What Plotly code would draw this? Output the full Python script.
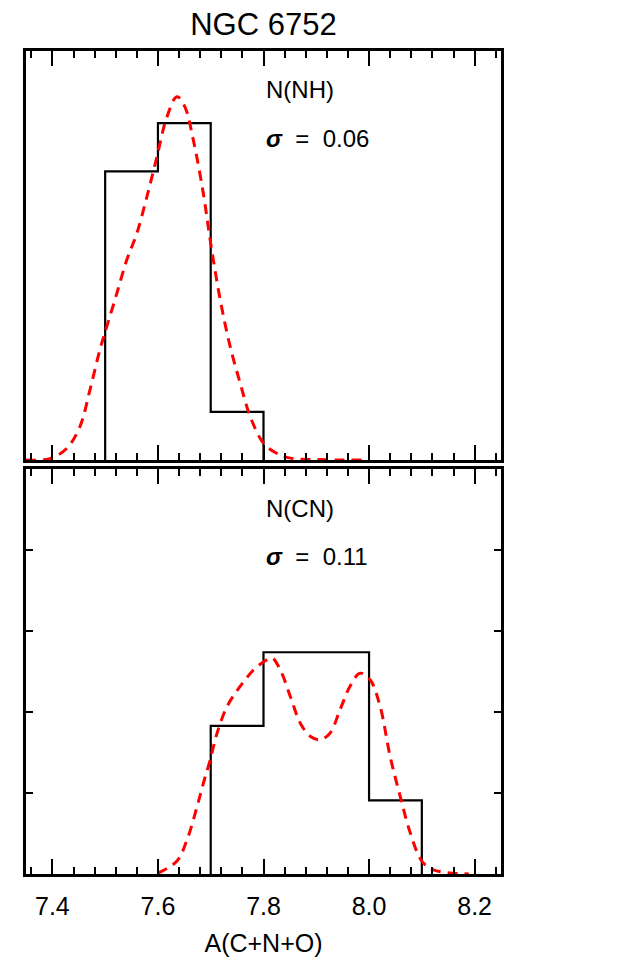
import plotly.graph_objects as go
from plotly.subplots import make_subplots

# --- datos ---
titulo = "NGC 6752"

# panel superior: N(NH)
bordes_nh = [7.5, 7.6, 7.7, 7.8]
cuentas_nh = [6, 7, 1]
kde_nh_x = [7.350, 7.395, 7.427, 7.452, 7.471, 7.490, 7.503, 7.522, 7.541, 7.560,
            7.579, 7.598, 7.617, 7.636, 7.651, 7.667, 7.686, 7.699, 7.718, 7.737,
            7.756, 7.775, 7.800, 7.825, 7.851, 7.900, 7.987]
kde_nh_y = [0.00, 0.03, 0.24, 0.69, 1.45, 2.29, 2.77, 3.46, 4.16, 4.71,
            5.47, 6.30, 7.13, 7.55, 7.34, 6.65, 5.54, 4.57, 3.33, 2.35,
            1.59, 0.90, 0.35, 0.14, 0.04, 0.01, 0.00]
etiqueta_nh = "N(NH)"
sigma_nh = "0.06"

# panel inferior: N(CN)
bordes_cn = [7.7, 7.8, 7.9, 8.0, 8.1]
cuentas_cn = [1.83, 2.74, 2.74, 0.91]
kde_cn_x = [7.600, 7.636, 7.655, 7.674, 7.686, 7.699, 7.712, 7.731, 7.756, 7.781,
            7.800, 7.816, 7.832, 7.851, 7.870, 7.889, 7.907, 7.926, 7.945, 7.964,
            7.983, 8.002, 8.021, 8.040, 8.059, 8.078, 8.100, 8.122, 8.189]
kde_cn_y = [0.01, 0.16, 0.42, 0.83, 1.12, 1.41, 1.74, 2.07, 2.32, 2.52,
            2.62, 2.67, 2.52, 2.19, 1.86, 1.70, 1.66, 1.74, 2.03, 2.32,
            2.48, 2.40, 2.07, 1.45, 0.96, 0.51, 0.16, 0.05, 0.00]
etiqueta_cn = "N(CN)"
sigma_cn = "0.11"

x_titulo = "A(C+N+O)"

FUENTE = "Liberation Sans"


def contorno(bordes, alturas):
    xs, ys = [bordes[0]], [0]
    for i, h in enumerate(alturas):
        xs += [bordes[i], bordes[i + 1]]
        ys += [h, h]
    xs.append(bordes[-1])
    ys.append(0)
    return xs, ys


fig = make_subplots(rows=2, cols=1, shared_xaxes=False, vertical_spacing=0.0)

for fila, (bordes, alturas, kx, ky) in enumerate(
        [(bordes_nh, cuentas_nh, kde_nh_x, kde_nh_y),
         (bordes_cn, cuentas_cn, kde_cn_x, kde_cn_y)], start=1):
    hx, hy = contorno(bordes, alturas)
    fig.add_trace(go.Scatter(x=hx, y=hy, mode="lines",
                             line=dict(color="black", width=2.2),
                             showlegend=False), row=fila, col=1)
    fig.add_trace(go.Scatter(x=kx, y=ky, mode="lines", line_shape="spline",
                             line=dict(color="red", width=3, dash="10px,7px"),
                             showlegend=False), row=fila, col=1)

eje_x = dict(range=[7.35, 8.25], showline=True, linecolor="black", linewidth=2.5,
             mirror="ticks", ticks="inside", ticklen=15, tickwidth=2,
             tickcolor="black", tick0=7.4, dtick=0.2, showgrid=False,
             zeroline=False,
             minor=dict(ticks="inside", ticklen=7, tickwidth=2, tickcolor="black",
                        tick0=7.4, dtick=0.04, showgrid=False))
fig.update_xaxes(**eje_x)
fig.update_xaxes(showticklabels=False, row=1, col=1)
fig.update_xaxes(showticklabels=True, tickformat=".1f",
                 tickfont=dict(family=FUENTE, size=25, color="black"),
                 ticklabelstandoff=8,
                 title=dict(text=x_titulo, standoff=16,
                            font=dict(family=FUENTE, size=25, color="black")),
                 row=2, col=1)

fig.update_yaxes(range=[0, 8.5], showline=True, linecolor="black", linewidth=2.5,
                 mirror=True, ticks="", showticklabels=False, showgrid=False,
                 zeroline=False, row=1, col=1)
fig.update_yaxes(range=[0, 5], showline=True, linecolor="black", linewidth=2.5,
                 mirror="ticks", ticks="inside", ticklen=7, tickwidth=2,
                 tickcolor="black", dtick=1, showticklabels=False, showgrid=False,
                 zeroline=False, row=2, col=1)

fig.update_layout(yaxis=dict(domain=[0.503, 1.0]), yaxis2=dict(domain=[0.0, 0.4917]))

for fila, (etq, sig, y1, y2) in enumerate(
        [(etiqueta_nh, sigma_nh, 7.69, 6.69), (etiqueta_cn, sigma_cn, 4.52, 3.92)], start=1):
    xr = "x" if fila == 1 else "x2"
    yr = "y" if fila == 1 else "y2"
    fig.add_annotation(x=7.8, y=y1, xref=xr, yref=yr, text=etq, showarrow=False,
                       xanchor="left", yanchor="middle",
                       font=dict(family=FUENTE, size=24, color="black"))
    fig.add_annotation(x=7.8, y=y2, xref=xr, yref=yr,
                       text="<b><i>σ</i></b>  =  " + sig, showarrow=False,
                       xanchor="left", yanchor="middle",
                       font=dict(family=FUENTE, size=24, color="black"))

# la página tiene 8 px de margen propio: se compensa en los márgenes
fig.update_layout(
    width=623, height=967,
    margin=dict(l=18, r=130, t=43, b=101),
    paper_bgcolor="white", plot_bgcolor="white",
    title=dict(text=titulo, x=0.41, xanchor="center", y=0.995, yanchor="top",
               yref="container", pad=dict(t=0),
               font=dict(family=FUENTE, size=31, color="black")),
)

fig.write_html("out.html")
